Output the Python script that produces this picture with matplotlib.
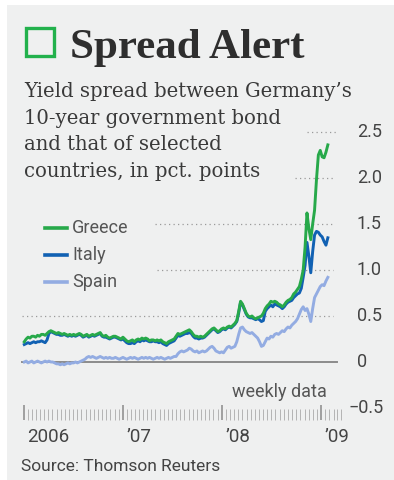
import numpy as np
import pandas as pd
import matplotlib
matplotlib.use("Agg")
import matplotlib.pyplot as plt
import matplotlib.dates as mdates
import matplotlib.transforms as mtransforms
from matplotlib.patches import Rectangle

# ---- data: weekly yield spreads over German 10-year bund, pct. points ----
weeks = pd.date_range("2006-01-02", periods=161, freq="7D")

greece = [
    0.22, 0.25, 0.27, 0.26, 0.28, 0.28, 0.27, 0.29, 0.28, 0.30,
    0.30, 0.29, 0.31, 0.33, 0.34, 0.33, 0.32, 0.31, 0.32, 0.31,
    0.30, 0.31, 0.30, 0.29, 0.30, 0.29, 0.30, 0.29, 0.30, 0.31,
    0.30, 0.28, 0.29, 0.30, 0.28, 0.29, 0.30, 0.29, 0.30, 0.31,
    0.32, 0.29, 0.28, 0.29, 0.27, 0.26, 0.27, 0.28, 0.28, 0.27,
    0.26, 0.25, 0.27, 0.25, 0.23, 0.22, 0.23, 0.24, 0.22, 0.24,
    0.25, 0.24, 0.26, 0.25, 0.26, 0.25, 0.23, 0.24, 0.24, 0.23,
    0.24, 0.23, 0.24, 0.22, 0.21, 0.20, 0.22, 0.23, 0.24, 0.25,
    0.28, 0.31, 0.30, 0.31, 0.32, 0.33, 0.34, 0.35, 0.33, 0.30,
    0.28, 0.28, 0.27, 0.28, 0.27, 0.28, 0.30, 0.32, 0.34, 0.36,
    0.37, 0.35, 0.33, 0.34, 0.36, 0.37, 0.36, 0.38, 0.39, 0.38,
    0.40, 0.42, 0.45, 0.55, 0.66, 0.63, 0.58, 0.53, 0.50, 0.49,
    0.50, 0.48, 0.47, 0.48, 0.49, 0.50, 0.53, 0.58, 0.61, 0.63,
    0.66, 0.65, 0.66, 0.65, 0.63, 0.62, 0.60, 0.62, 0.65, 0.67,
    0.68, 0.70, 0.74, 0.76, 0.79, 0.82, 0.90, 1.00, 1.25, 1.62,
    1.45, 1.33, 1.50, 1.65, 1.98, 2.25, 2.30, 2.23, 2.22, 2.28,
    2.36,
]

italy = [
    0.19, 0.20, 0.21, 0.20, 0.21, 0.22, 0.21, 0.22, 0.22, 0.23,
    0.22, 0.21, 0.24, 0.31, 0.33, 0.32, 0.31, 0.30, 0.30, 0.29,
    0.29, 0.30, 0.29, 0.28, 0.29, 0.28, 0.29, 0.28, 0.29, 0.30,
    0.29, 0.27, 0.28, 0.29, 0.27, 0.28, 0.29, 0.28, 0.29, 0.30,
    0.31, 0.28, 0.27, 0.27, 0.26, 0.25, 0.26, 0.27, 0.27, 0.26,
    0.25, 0.24, 0.25, 0.23, 0.21, 0.20, 0.20, 0.21, 0.20, 0.22,
    0.23, 0.22, 0.24, 0.23, 0.24, 0.23, 0.22, 0.22, 0.23, 0.22,
    0.22, 0.21, 0.22, 0.20, 0.19, 0.18, 0.20, 0.21, 0.22, 0.23,
    0.26, 0.29, 0.28, 0.29, 0.30, 0.31, 0.31, 0.32, 0.31, 0.28,
    0.26, 0.26, 0.25, 0.26, 0.26, 0.27, 0.29, 0.31, 0.33, 0.35,
    0.36, 0.34, 0.32, 0.33, 0.35, 0.36, 0.35, 0.37, 0.38, 0.37,
    0.39, 0.41, 0.44, 0.53, 0.65, 0.62, 0.57, 0.52, 0.49, 0.48,
    0.48, 0.47, 0.46, 0.47, 0.46, 0.44, 0.45, 0.55, 0.58, 0.60,
    0.62, 0.60, 0.63, 0.62, 0.61, 0.60, 0.58, 0.60, 0.63, 0.65,
    0.66, 0.67, 0.70, 0.72, 0.74, 0.75, 0.80, 0.92, 1.05, 1.30,
    1.15, 0.97, 1.20, 1.38, 1.42, 1.41, 1.38, 1.36, 1.31, 1.27,
    1.35,
]

spain = [
    0.00, 0.01, -0.01, 0.00, 0.01, -0.01, 0.00, 0.01, 0.00, -0.01,
    0.00, 0.01, 0.00, 0.01, 0.00, 0.00, -0.01, -0.02, -0.02, -0.03,
    -0.02, -0.03, -0.02, -0.01, -0.02, -0.01, -0.01, 0.00, -0.01, 0.00,
    0.01, 0.02, 0.03, 0.05, 0.06, 0.05, 0.06, 0.05, 0.04, 0.05,
    0.06, 0.05, 0.04, 0.05, 0.04, 0.05, 0.04, 0.04, 0.05, 0.04,
    0.03, 0.04, 0.05, 0.04, 0.03, 0.04, 0.05, 0.04, 0.05, 0.04,
    0.03, 0.04, 0.05, 0.04, 0.05, 0.04, 0.05, 0.04, 0.03, 0.04,
    0.05, 0.04, 0.05, 0.04, 0.03, 0.04, 0.05, 0.04, 0.05, 0.06,
    0.06, 0.09, 0.11, 0.12, 0.11, 0.12, 0.13, 0.15, 0.14, 0.12,
    0.11, 0.12, 0.10, 0.11, 0.12, 0.11, 0.12, 0.14, 0.16, 0.17,
    0.15, 0.12, 0.11, 0.10, 0.11, 0.10, 0.13, 0.16, 0.17, 0.15,
    0.16, 0.17, 0.22, 0.30, 0.37, 0.38, 0.35, 0.33, 0.32, 0.31,
    0.32, 0.30, 0.28, 0.26, 0.22, 0.17, 0.18, 0.22, 0.26, 0.25,
    0.28, 0.27, 0.30, 0.31, 0.30, 0.32, 0.34, 0.33, 0.36, 0.38,
    0.37, 0.40, 0.42, 0.44, 0.47, 0.52, 0.57, 0.60, 0.56, 0.58,
    0.52, 0.44, 0.58, 0.70, 0.74, 0.78, 0.82, 0.84, 0.83, 0.88,
    0.92,
]

series_names = ["Greece", "Italy", "Spain"]
series_colors = ["#27a94a", "#1161b3", "#93ace2"]
y_ticks = [2.5, 2.0, 1.5, 1.0, 0.5, 0, -0.5]
y_tick_labels = ["2.5", "2.0", "1.5", "1.0", "0.5", "0", "\u22120.5"]
year_labels = ["2006", "\u201907", "\u201908", "\u201909"]

# ---- figure setup ----
W, H = 394, 480
fig = plt.figure(figsize=(W / 100, H / 100), dpi=100)
fig.patch.set_facecolor("white")

BG = "#eff0f0"
SANS = ["Roboto", "DejaVu Sans"]
SERIF = ["DejaVu Serif"]


def fx(px):
    return px / W


def fy(py):
    return 1 - py / H


# panel background
fig.patches.append(Rectangle((fx(7), 0), 1 - fx(7), fy(5), transform=fig.transFigure,
                             facecolor=BG, edgecolor="none", zorder=-10))

# title with green box marker
fig.patches.append(Rectangle((fx(26.5), fy(55.5)), fx(27), (55.5 - 28.5) / H,
                             transform=fig.transFigure, facecolor="none",
                             edgecolor="#22b14c", linewidth=2.4, zorder=2))
fig.text(fx(70), fy(58), "Spread Alert", fontsize=31, fontweight="bold",
         family=["Liberation Serif"], color="#2e2e2e", va="baseline", ha="left")

subtitle = ["Yield spread between Germany\u2019s", "10-year government bond",
            "and that of selected", "countries, in pct. points"]
for i, line in enumerate(subtitle):
    fig.text(fx(24), fy(97 + 26.7 * i), line, fontsize=14.1, family=SERIF,
             color="#3a3a3a", va="baseline", ha="left")

# ---- main axes (pixel box 20..345 x 120..420) ----
ax_l, ax_r, ax_t, ax_b = 20, 345, 120, 420
ax = fig.add_axes([fx(ax_l), fy(ax_b), (ax_r - ax_l) / W, (ax_b - ax_t) / H])
ax.set_facecolor("none")
ax.set_zorder(1)
for s in ax.spines.values():
    s.set_visible(False)

d0 = mdates.date2num(pd.Timestamp("2006-01-01"))
px_per_year = 99.0
x_start = d0 - (24 - ax_l) / px_per_year * 365.25
x_end = d0 + (ax_r - 24) / px_per_year * 365.25
ax.set_xlim(x_start, x_end)
ax.set_ylim((362 - ax_b) / 92.0, (362 - ax_t) / 92.0)


def afx(px):
    return (px - ax_l) / (ax_r - ax_l)


# axes-fraction x, data y
xa_yd = mtransforms.blended_transform_factory(ax.transAxes, ax.transData)

# reference lines
grid_spans = {0.5: (22, 333), 1.0: (157, 333), 1.5: (155, 333), 2.0: (295, 335), 2.5: (307, 338)}
for yv, (a, b) in grid_spans.items():
    ax.axhline(yv, afx(a), afx(b), color="#9a9a9a", lw=0.9,
               linestyle=(0, (1.0, 2.6)), zorder=1)
ax.axhline(0, afx(22), afx(337), color="#8c8c8c", lw=1.4, zorder=1)

# series (Spain drawn first, underneath)
values = {"Greece": greece, "Italy": italy, "Spain": spain}
for name, col in reversed(list(zip(series_names, series_colors))):
    ax.plot(weeks, values[name], color=col, lw=2.1, solid_joinstyle="round", zorder=3)

# y labels on the right
for yv, lab in zip(y_ticks, y_tick_labels):
    xpos = 348 if lab.startswith("\u2212") else 357
    ax.text(afx(xpos), yv, lab, transform=xa_yd, fontsize=13,
            family=SANS, color="#444444", va="center", ha="left", clip_on=False)
ax.set_yticks([])

# x ticks: half-monthly minor, yearly major
ax.xaxis.set_major_locator(mdates.YearLocator())
ax.xaxis.set_minor_locator(mdates.DayLocator(bymonthday=[1, 16]))
ax.tick_params(axis="x", which="minor", direction="in", length=8, width=0.7,
               color="#b4b4b4", labelbottom=False)
ax.tick_params(axis="x", which="major", direction="in", length=11, width=1.1,
               color="#8a8a8a", labelbottom=False)
for yr, lab in zip([2006, 2007, 2008, 2009], year_labels):
    xd = mdates.date2num(pd.Timestamp(f"{yr}-01-01"))
    ax.text(xd + 12, -0.025, lab, transform=ax.get_xaxis_transform(), fontsize=13.5,
            family=SANS, color="#444444", va="top", ha="left", clip_on=False)

ax.text(afx(232), (362 - 397) / 92.0, "weekly data", transform=xa_yd, fontsize=13,
        family=SANS, color="#555555", va="baseline", ha="left")

# legend
leg_y = [228, 255, 282]
for name, col, py in zip(series_names, series_colors, leg_y):
    fig.add_artist(plt.Line2D([fx(45), fx(67)], [fy(py), fy(py)], color=col, lw=2.6,
                              transform=fig.transFigure))
    fig.text(fx(72), fy(py), name, fontsize=13, family=SANS, color="#555555",
             va="center", ha="left")

fig.text(fx(21), fy(471), "Source: Thomson Reuters", fontsize=12.5, family=SANS,
         color="#444444", va="baseline", ha="left")

fig.savefig("out.png", dpi=100, facecolor=fig.get_facecolor())
